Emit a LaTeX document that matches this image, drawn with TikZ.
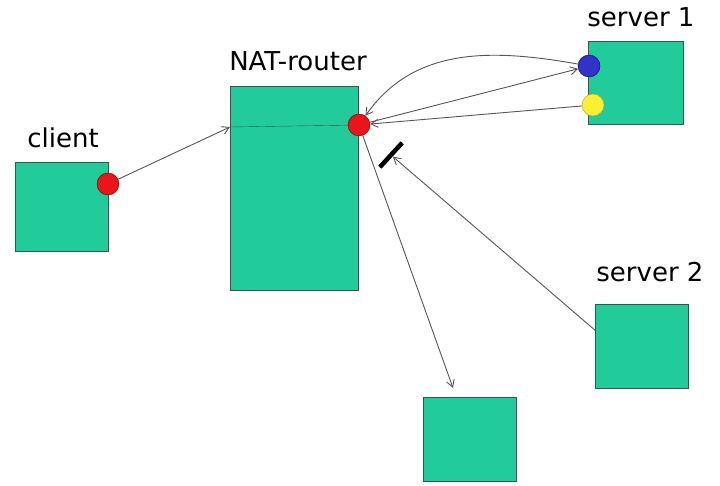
\documentclass[tikz,border=0pt]{standalone}
\usepackage{fontspec}
\setmainfont{DejaVu Sans}
\usepackage{tikz}
\usetikzlibrary{arrows,arrows.meta}
\usetikzlibrary{shapes}
\usetikzlibrary{calc}
\definecolor{hostgreen}{RGB}{34,204,154}
\definecolor{boxline}{RGB}{55,85,75}
\definecolor{linkgray}{RGB}{85,85,85}
\definecolor{portred}{RGB}{235,20,25}
\definecolor{portblue}{RGB}{50,50,200}
\definecolor{portyellow}{RGB}{250,240,50}
\tikzset{
hostbox/.style={draw=boxline, fill=hostgreen, anchor=north west, inner sep=0pt},
port/.style={circle, draw=black!60!red, minimum size=22pt, inner sep=0pt},
hostlabel/.style={font=\fontsize{26}{29}\selectfont},
link/.style={->, draw=linkgray, line width=0.9pt},
}
\begin{document}
\begin{tikzpicture}[x=1pt,y=1pt,>={Straight Barb[length=7pt,width=8pt]}]%NAT
\useasboundingbox (0,0) rectangle (720,-486);
\node[hostbox, minimum width=93pt, minimum height=89pt] (client) at (15,-162) {};
\node[hostbox, minimum width=128pt, minimum height=204pt] (nat) at (230,-86) {};
\node[hostbox, minimum width=95pt, minimum height=83pt] (srvone) at (588,-41) {};
\node[hostbox, minimum width=93pt, minimum height=84pt] (srvtwo) at (595,-304) {};
\node[hostbox, minimum width=93pt, minimum height=84pt] (dest) at (423,-397) {};
\node[hostlabel] (clientlbl) at (63,-138) {client};
\node[hostlabel] (natlbl) at (298,-61) {NAT-router};
\node[hostlabel] (srvonelbl) at (641,-17) {server 1};
\node[hostlabel] (srvtwolbl) at (650,-272) {server 2};
\node[port, fill=portred] (cdot) at (108,-184) {};
\node[port, fill=portred] (natdot) at (359,-125) {};
\node[port, fill=portblue, draw=black!60!blue] (bdot) at (589,-66) {};
\node[port, fill=portyellow, draw=black!40!yellow] (ydot) at (593,-105) {};
\node[rectangle, fill=black, minimum width=33pt, minimum height=4.5pt, inner sep=0pt, rotate=47.5] (block) at (391,-155) {};
\coordinate (natin) at (230,-127);
\coordinate (downend) at (453,-388);
\draw[boxline] (natin) -- (natdot);
\draw[link] (cdot) -- (natin);
\draw[link] (natdot) -- (bdot);
\draw[link] (ydot) -- (natdot);
\draw[link] (bdot) to[out=170, in=55] (natdot);
\draw[link] ([yshift=16pt]srvtwo.west) -- (block);
\draw[link] (natdot) -- (downend);
\end{tikzpicture}
\end{document}
